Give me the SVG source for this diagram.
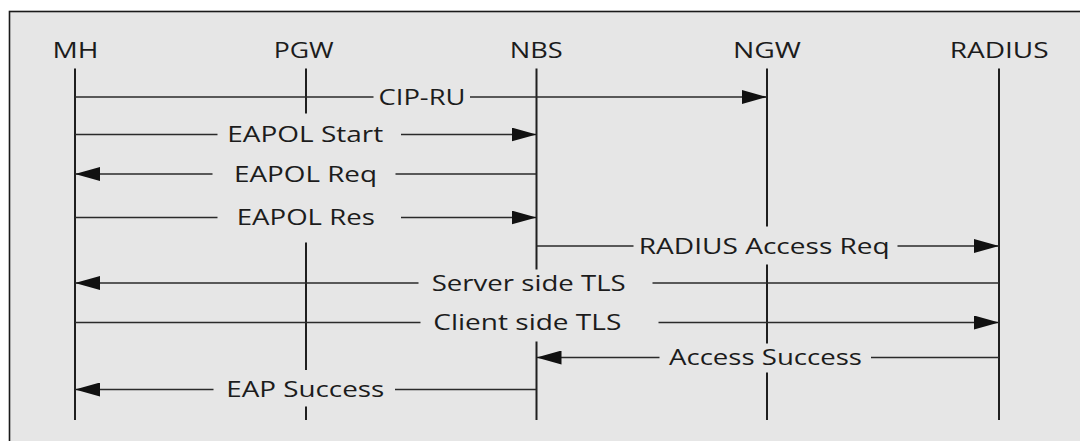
<svg xmlns="http://www.w3.org/2000/svg" width="1080" height="441" viewBox="0 0 1080 441">
  <style>
    .frame { fill: #e6e6e6; stroke: #1a1a1a; stroke-width: 1.6; }
    .life { stroke: #1f1f1f; stroke-width: 2; fill: none; }
    .msg { stroke: #2a2a2a; stroke-width: 1.6; fill: none; }
    .arr { marker-end: url(#head); }
    text { font-family: "Open Sans", "Noto Sans", "Liberation Sans", sans-serif; font-size: 21px; fill: #1c1c1c; text-anchor: middle; }
  </style>
  <defs>
    <marker id="head" markerUnits="userSpaceOnUse" markerWidth="26" markerHeight="14" refX="25" refY="7" orient="auto">
      <path d="M0,0 L25,7 L0,14 Z" fill="#111"/>
    </marker>
  </defs>

  <!-- panel -->
  <rect class="frame" x="9.5" y="11.5" width="1090" height="450"/>

  <!-- participants -->
  <g id="node-mh">
    <text x="75.5" y="57.7" textLength="46" lengthAdjust="spacingAndGlyphs">MH</text>
    <line class="life" x1="75" y1="68.5" x2="75" y2="420"/>
  </g>
  <g id="node-pgw">
    <text x="303.7" y="57.7" textLength="60" lengthAdjust="spacingAndGlyphs">PGW</text>
    <path class="life" d="M306,68.5 V113.5 M306,242.5 V370 M306,406.5 V420"/>
  </g>
  <g id="node-nbs">
    <text x="536.2" y="57.7" textLength="53" lengthAdjust="spacingAndGlyphs">NBS</text>
    <path class="life" d="M536.5,68.5 V269.5 M536.5,341.5 V420"/>
  </g>
  <g id="node-ngw">
    <text x="767" y="57.7" textLength="68" lengthAdjust="spacingAndGlyphs">NGW</text>
    <path class="life" d="M767,68.5 V226.5 M767,264.5 V343.5 M767,372.5 V420"/>
  </g>
  <g id="node-radius">
    <text x="999.2" y="57.7" textLength="99" lengthAdjust="spacingAndGlyphs">RADIUS</text>
    <line class="life" x1="999" y1="68.5" x2="999" y2="420"/>
  </g>

  <!-- messages -->
  <g id="connectors">
    <g id="msg-cip-ru">
      <line class="msg" x1="75" y1="97" x2="373.5" y2="97"/>
      <line class="msg arr" x1="470" y1="97" x2="767" y2="97"/>
      <text x="422" y="104.5" textLength="87" lengthAdjust="spacingAndGlyphs">CIP-RU</text>
    </g>
    <g id="msg-eapol-start">
      <line class="msg" x1="75" y1="134.5" x2="217.5" y2="134.5"/>
      <line class="msg arr" x1="401" y1="134.5" x2="536.5" y2="134.5"/>
      <text x="305.2" y="142" textLength="156" lengthAdjust="spacingAndGlyphs">EAPOL Start</text>
    </g>
    <g id="msg-eapol-req">
      <line class="msg" x1="536.5" y1="174" x2="395.5" y2="174"/>
      <line class="msg arr" x1="212.5" y1="174" x2="75" y2="174"/>
      <text x="305.5" y="181.5" textLength="143" lengthAdjust="spacingAndGlyphs">EAPOL Req</text>
    </g>
    <g id="msg-eapol-res">
      <line class="msg" x1="75" y1="217.5" x2="217.5" y2="217.5"/>
      <line class="msg arr" x1="401" y1="217.5" x2="536.5" y2="217.5"/>
      <text x="305.8" y="225.2" textLength="138" lengthAdjust="spacingAndGlyphs">EAPOL Res</text>
    </g>
    <g id="msg-radius-access-req">
      <line class="msg" x1="536.5" y1="246" x2="633.5" y2="246"/>
      <line class="msg arr" x1="897.5" y1="246" x2="999" y2="246"/>
      <text x="764.3" y="253.5" textLength="251" lengthAdjust="spacingAndGlyphs">RADIUS Access Req</text>
    </g>
    <g id="msg-server-tls">
      <line class="msg" x1="999" y1="283" x2="652.5" y2="283"/>
      <line class="msg arr" x1="418.5" y1="283" x2="75" y2="283"/>
      <text x="528.7" y="290.5" textLength="194" lengthAdjust="spacingAndGlyphs">Server side TLS</text>
    </g>
    <g id="msg-client-tls">
      <line class="msg" x1="75" y1="322.5" x2="420.5" y2="322.5"/>
      <line class="msg arr" x1="658.5" y1="322.5" x2="999" y2="322.5"/>
      <text x="527.3" y="330" textLength="188" lengthAdjust="spacingAndGlyphs">Client side TLS</text>
    </g>
    <g id="msg-access-success">
      <line class="msg" x1="999" y1="357.5" x2="871" y2="357.5"/>
      <line class="msg arr" x1="659.5" y1="357.5" x2="536.5" y2="357.5"/>
      <text x="765.5" y="365" textLength="193" lengthAdjust="spacingAndGlyphs">Access Success</text>
    </g>
    <g id="msg-eap-success">
      <line class="msg" x1="536.5" y1="389.5" x2="395" y2="389.5"/>
      <line class="msg arr" x1="213.5" y1="389.5" x2="75" y2="389.5"/>
      <text x="305.3" y="397" textLength="158" lengthAdjust="spacingAndGlyphs">EAP Success</text>
    </g>
  </g>
</svg>
